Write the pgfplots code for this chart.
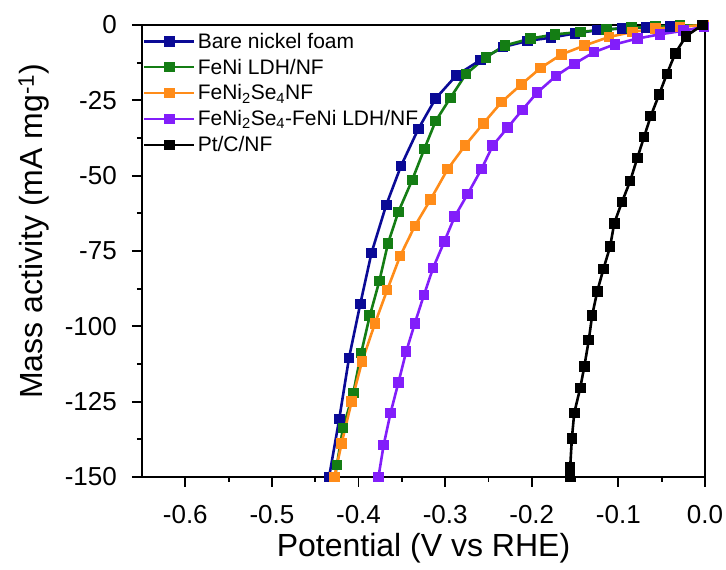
\documentclass[border=0pt]{standalone}
\usepackage{pgfplots}
\pgfplotsset{compat=1.18}
\usepackage{fontspec}
\setmainfont{Liberation Sans}
\definecolor{cblue}{RGB}{10,10,150}
\definecolor{cgreen}{RGB}{20,125,20}
\definecolor{corange}{RGB}{255,140,25}
\definecolor{cpurple}{RGB}{130,30,250}
\begin{document}
\begin{tikzpicture}
\begin{axis}[
  scale only axis, width=563pt, height=452pt,
  xmin=-0.65, xmax=0, ymin=-150, ymax=0,
  xtick={-0.6,-0.5,-0.4,-0.3,-0.2,-0.1,0},
  ytick={-150,-125,-100,-75,-50,-25,0},
  minor x tick num=1, minor y tick num=1,
  tick align=outside, tick pos=left,
  major tick length=10pt, minor tick length=5pt,
  every tick/.style={black, line width=1.8pt},
  axis line style={line width=2.2pt},
  /pgf/number format/assume math mode=true,
  tick label style={font=\fontsize{26}{26}\selectfont, inner sep=0pt},
  xticklabel style={anchor=center, yshift=-28pt, /pgf/number format/.cd, fixed, fixed zerofill, precision=1},
  yticklabel style={anchor=east, xshift=-15pt, /pgf/number format/.cd, fixed, precision=0},
  xlabel={Potential (V vs RHE)},
  ylabel={Mass activity (mA mg\textsuperscript{-1})},
  every axis x label/.style={at={(axis description cs:0.5,-0.157)}, anchor=center, font=\fontsize{32}{32}\selectfont},
  every axis y label/.style={at={(axis description cs:-0.192,0.544)}, rotate=90, anchor=center, font=\fontsize{32}{32}\selectfont},
  legend style={at={(axis description cs:0,1)}, xshift=1pt, yshift=-5.7pt, anchor=north west, draw=none, fill=none,
    font=\fontsize{21}{21}\selectfont, row sep=5.2pt, inner sep=0pt,
    /tikz/every even column/.append style={column sep=6pt}},
  legend cell align=left,
  legend image code/.code={\draw[#1, mark repeat=2, mark phase=2] plot coordinates {(0pt,0pt) (25pt,0pt) (50pt,0pt)};},
  every axis plot/.append style={line width=2.6pt, mark=square*, mark size=4pt},
]
\addplot[cblue] coordinates {
(-0.434,-150) (-0.4223,-130.8) (-0.411,-110.5) (-0.398,-92.6) (-0.385,-75.6) (-0.368,-59.7)
(-0.351,-46.8) (-0.331,-34.5) (-0.311,-24.4) (-0.287,-16.7) (-0.259,-11.6) (-0.233,-7.3)
(-0.205,-5.3) (-0.178,-4.2) (-0.150,-2.8) (-0.124,-1.7) (-0.096,-1.1) (-0.068,-0.8)
(-0.040,-0.5) (-0.002,0)};
\addlegendentry{Bare nickel foam}
\addplot[cgreen] coordinates {
(-0.427,-150) (-0.425,-146) (-0.418,-133.8) (-0.406,-122.1) (-0.397,-108.9) (-0.387,-96.5)
(-0.376,-85) (-0.366,-72.5) (-0.354,-62) (-0.338,-51.4) (-0.324,-41.1) (-0.311,-31.9)
(-0.294,-24.2) (-0.276,-16.3) (-0.253,-10.7) (-0.231,-6.8) (-0.2015,-4.5) (-0.173,-3.1)
(-0.144,-2.3) (-0.114,-1.5) (-0.085,-0.9) (-0.057,-0.5) (-0.029,-0.2) (-0.002,0)};
\addlegendentry{FeNi LDH/NF}
\addplot[corange] coordinates {
(-0.428,-150) (-0.4195,-138.8) (-0.408,-125) (-0.396,-111.7) (-0.381,-99) (-0.367,-88)
(-0.352,-76.7) (-0.335,-66.7) (-0.317,-58) (-0.297,-47.8) (-0.277,-40) (-0.256,-32.7)
(-0.235,-25.6) (-0.212,-19.7) (-0.190,-14.3) (-0.166,-9.8) (-0.139,-6.8) (-0.111,-4)
(-0.084,-2.3) (-0.057,-1.2) (-0.029,-0.6) (-0.002,0)};
\addlegendentry{FeNi\textsubscript{2}Se\textsubscript{4}NF}
\addplot[cpurple] coordinates {
(-0.377,-150) (-0.371,-139.4) (-0.363,-128.7) (-0.354,-118.7) (-0.345,-108.4) (-0.335,-99)
(-0.3245,-89.6) (-0.314,-80.7) (-0.301,-71.9) (-0.289,-63.6) (-0.274,-56.1) (-0.258,-47.8)
(-0.245,-40) (-0.228,-34.1) (-0.211,-28.2) (-0.194,-22.5) (-0.172,-16.9) (-0.151,-12.9)
(-0.128,-9) (-0.104,-6.4) (-0.078,-4.5) (-0.052,-3.1) (-0.025,-1.9) (-0.001,-0.6)};
\addlegendentry{FeNi\textsubscript{2}Se\textsubscript{4}-FeNi LDH/NF}
\addplot[black] coordinates {
(-0.156,-150) (-0.1557,-146.9) (-0.1537,-137.3) (-0.151,-128.8) (-0.144,-120.4) (-0.1393,-113.3)
(-0.1342,-104.6) (-0.1303,-96.4) (-0.1244,-88.4) (-0.1173,-81) (-0.1095,-73.5) (-0.1048,-65.8)
(-0.0958,-58.7) (-0.0864,-51.8) (-0.0782,-44.2) (-0.0704,-37.2) (-0.0626,-30.2) (-0.053,-23.1)
(-0.0441,-16.3) (-0.0343,-9.4) (-0.022,-3.75) (-0.003,0)};
\addlegendentry{Pt/C/NF}
\end{axis}
\path ([yshift=25pt]current axis.north west);
\path ([xshift=-142pt,yshift=-93pt]current axis.south west);
\path ([xshift=21pt]current axis.south east);
\end{tikzpicture}
\end{document}
